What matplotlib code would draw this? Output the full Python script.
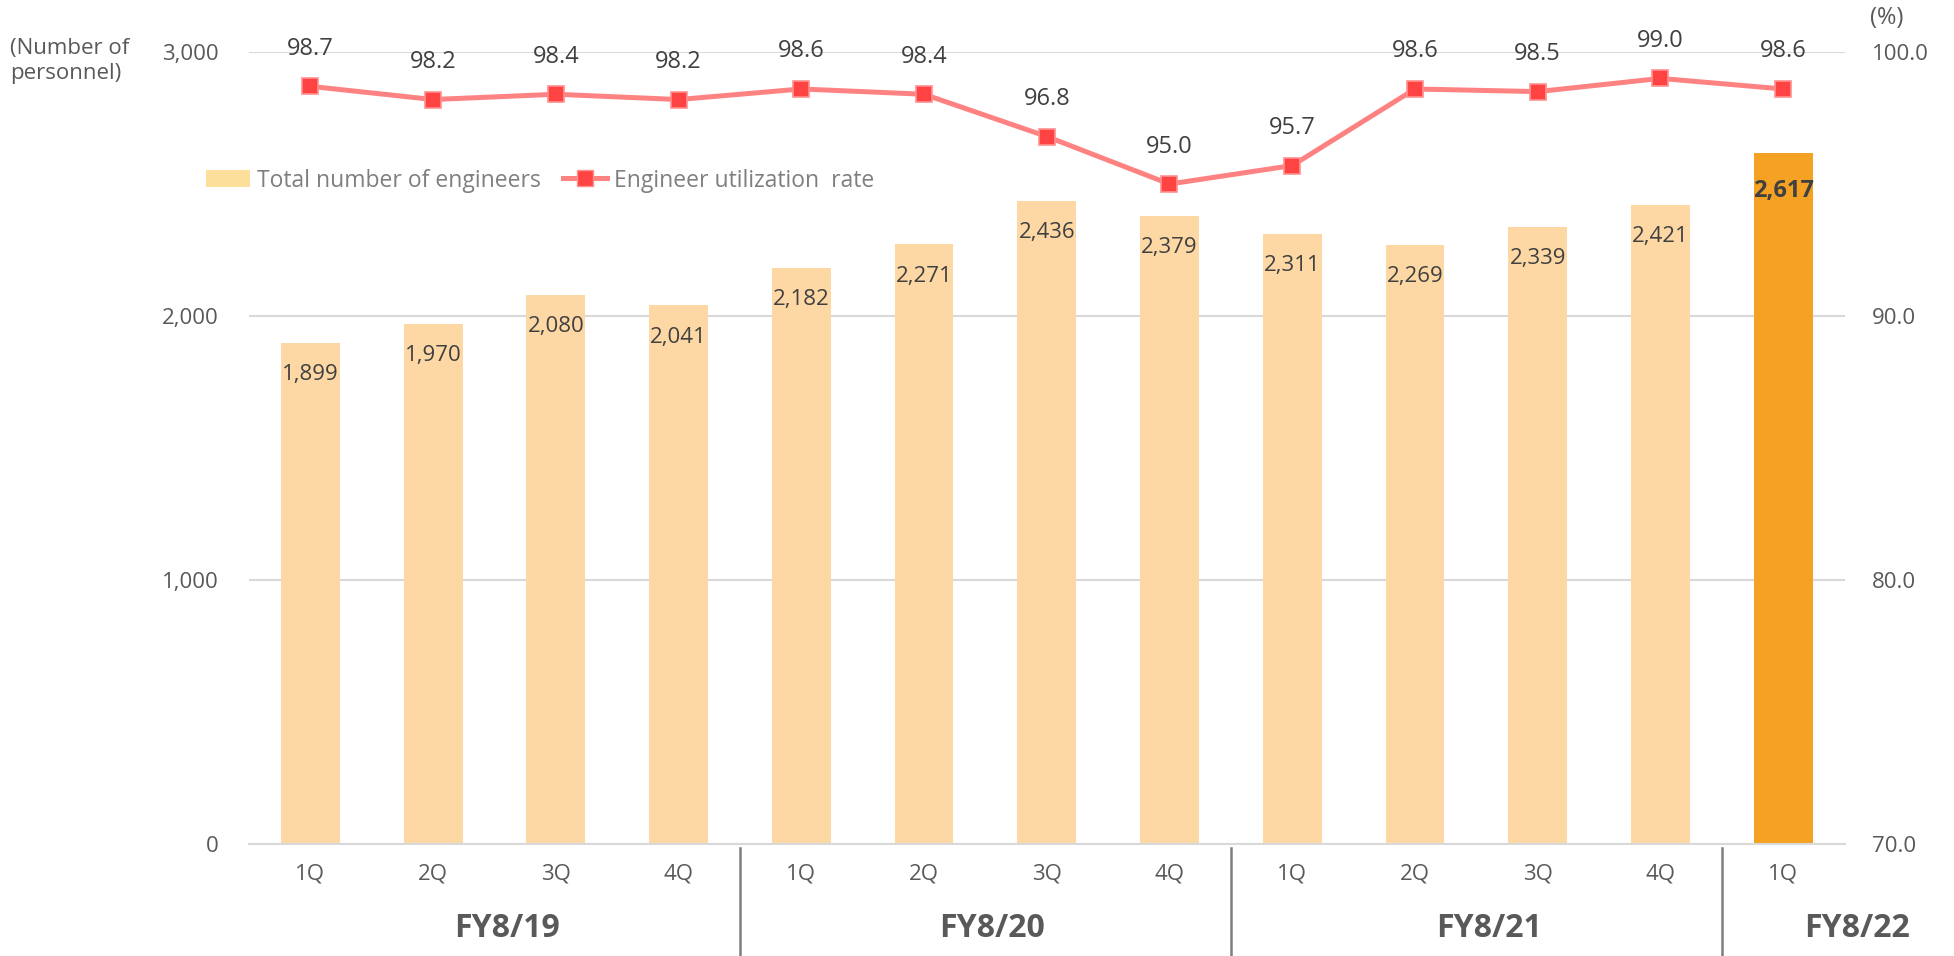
import matplotlib.pyplot as plt
from matplotlib.lines import Line2D
from matplotlib.patches import Patch
from matplotlib.ticker import FuncFormatter
import numpy as np

plt.rcParams["font.family"] = ["Open Sans", "DejaVu Sans"]

quarters = ["1Q", "2Q", "3Q", "4Q", "1Q", "2Q", "3Q", "4Q", "1Q", "2Q", "3Q", "4Q", "1Q"]
fiscal_years = ["FY8/19", "FY8/20", "FY8/21", "FY8/22"]
engineers = [1899, 1970, 2080, 2041, 2182, 2271, 2436, 2379, 2311, 2269, 2339, 2421, 2617]
utilization = [98.7, 98.2, 98.4, 98.2, 98.6, 98.4, 96.8, 95.0, 95.7, 98.6, 98.5, 99.0, 98.6]

GRAY = "#595959"
BAR = "#FDD8A5"
BAR_HI = "#F5A123"
LINE = "#FF8282"
MARK = "#FF4343"

x = np.arange(len(engineers))
colors = [BAR] * (len(engineers) - 1) + [BAR_HI]

fig = plt.figure(figsize=(19.54, 9.56), dpi=100)
ax = fig.add_axes([0.1274, 0.117, 0.8166, 0.8286])
ax2 = ax.twinx()

ax.set_axisbelow(True)
ax.yaxis.grid(True, color="#D9D9D9", linewidth=1.5)
ax.bar(x, engineers, width=0.48, color=colors, zorder=2)
ax.set_xlim(-0.5, len(engineers) - 0.5)
ax.set_ylim(0, 3000)
ax.set_yticks([0, 1000, 2000, 3000])
ax.yaxis.set_major_formatter(FuncFormatter(lambda v, p: f"{v:,.0f}"))

for i, v in enumerate(engineers):
    last = i == len(engineers) - 1
    ax.annotate(f"{v:,}", (i, v), xytext=(0, -27 if last else -23),
                textcoords="offset points", ha="center", va="center",
                fontsize=17 if last else 16, color="#404040",
                fontweight="bold" if last else "normal", zorder=5)

ax2.plot(x, utilization, color=LINE, linewidth=3.6, marker="s", markersize=12,
         markerfacecolor=MARK, markeredgecolor="#FF9090", markeredgewidth=1.2, zorder=4)
ax2.set_ylim(70, 100)
ax2.set_yticks([70, 80, 90, 100])
ax2.yaxis.set_major_formatter(FuncFormatter(lambda v, p: f"{v:.1f}"))
for i, v in enumerate(utilization):
    ax2.annotate(f"{v:.1f}", (i, v), xytext=(0, 27), textcoords="offset points",
                 ha="center", va="center", fontsize=17, color="#404040")

for a in (ax, ax2):
    for s in a.spines.values():
        s.set_visible(False)
    a.tick_params(length=0, labelsize=16, labelcolor=GRAY)
ax.spines["bottom"].set_visible(True)
ax.spines["bottom"].set_color("#D9D9D9")
ax.spines["bottom"].set_linewidth(1.5)
ax.tick_params(axis="y", pad=22)
ax2.tick_params(axis="y", pad=20)

ax.set_xticks(x)
ax.set_xticklabels(quarters)
ax.tick_params(axis="x", pad=14)

# fiscal year separators and labels
trans = ax.get_xaxis_transform()
for sep in [3.5, 7.5, 11.5]:
    ax.plot([sep, sep], [-0.005, -0.14], color="#7F7F7F", linewidth=1.8,
            transform=trans, clip_on=False)
for label, pos in zip(fiscal_years, [1.6, 5.55, 9.6, 12.6]):
    ax.text(pos, -0.106, label, transform=trans, ha="center", va="center",
            fontsize=23, fontweight="bold", color=GRAY)

fig.text(0.005, 0.936, "(Number of\npersonnel)", ha="left", va="center",
         fontsize=16, color=GRAY, linespacing=1.25)
fig.text(0.9655, 0.981, "(%)", ha="center", va="center", fontsize=17, color=GRAY)

handles = [Patch(facecolor="#FCDF9A"),
           Line2D([], [], color=LINE, linewidth=3.6, marker="s", markersize=12,
                  markerfacecolor=MARK, markeredgecolor="#FF9090")]
fig.legend(handles, ["Total number of engineers", "Engineer utilization  rate"],
           loc="center left", bbox_to_anchor=(0.095, 0.811), ncol=2, frameon=False,
           fontsize=16.5, labelcolor="#7F7F7F", handlelength=1.9, handleheight=0.8,
           handletextpad=0.3, columnspacing=1.0)

fig.savefig("out.png", dpi=100)
